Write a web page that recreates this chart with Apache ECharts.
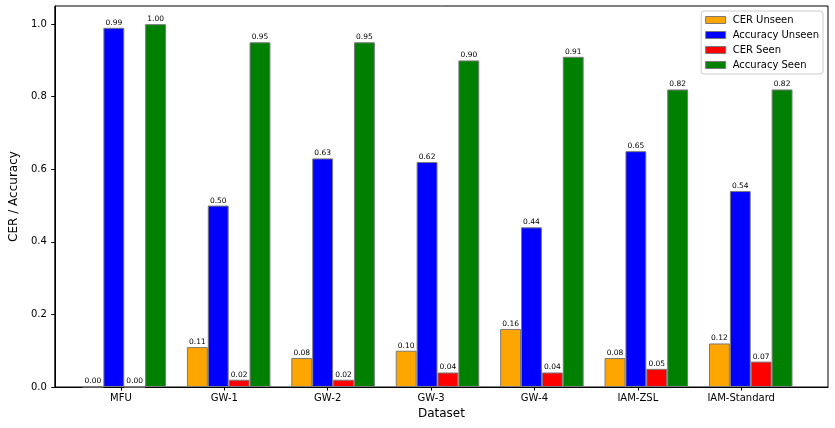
<!DOCTYPE html>
<html>
<head>
<meta charset="utf-8">
<script src="https://cdn.jsdelivr.net/npm/echarts@6/dist/echarts.min.js"></script>
<style>
html,body{margin:0;padding:0;background:#fff;}
#c{width:835px;height:428px;}
</style>
</head>
<body>
<div id="c"></div>
<script>
const categories = ['MFU', 'GW-1', 'GW-2', 'GW-3', 'GW-4', 'IAM-ZSL', 'IAM-Standard'];
const cerUnseen = [0.00, 0.11, 0.08, 0.10, 0.16, 0.08, 0.12];
const accUnseen = [0.99, 0.50, 0.63, 0.62, 0.44, 0.65, 0.54];
const cerSeen = [0.00, 0.02, 0.02, 0.04, 0.04, 0.05, 0.07];
const accSeen = [1.00, 0.95, 0.95, 0.90, 0.91, 0.82, 0.82];
const yTicks = [0, 0.2, 0.4, 0.6, 0.8, 1.0];

const FONT = 'DejaVu Sans';
const W = 835;
// frame grid geometry (matplotlib-like axes box)
const gL = 47, gR = 7, gT = 6, gB = 41;
const xMin = -0.64, xMax = 6.84;
const unit = (W - gL - gR) / (xMax - xMin);
const barW = 0.2 * unit;
// bar grid: each category band is centered on tick + 0.1 (group of 4 bars, tick at 2nd bar)
const bandStart = gL + (-0.4 - xMin) * unit;
const bandLeft = bandStart;
const bandRight = W - (bandStart + categories.length * unit);

const chart = echarts.init(document.getElementById('c'), null, {renderer: 'canvas'});

function mk(name, vals, color) {
  return {
    name: name,
    type: 'bar',
    xAxisIndex: 1, yAxisIndex: 1,
    barWidth: barW,
    barGap: '0%',
    data: vals,
    itemStyle: {color: color, borderColor: '#7a7a7a', borderWidth: 1},
    label: {
      show: true, position: 'top', distance: 1,
      fontFamily: FONT, fontSize: 7.5, color: '#000',
      formatter: p => Number(p.value).toFixed(2)
    },
    emphasis: {disabled: true},
    animation: false
  };
}

chart.setOption({
  animation: false,
  textStyle: {fontFamily: FONT},
  grid: [
    {left: gL, right: gR, top: gT, bottom: gB, show: true, borderColor: '#000', borderWidth: 1, z: 0},
    {left: bandLeft, right: bandRight, top: gT, bottom: gB, show: false}
  ],
  legend: {
    orient: 'vertical', right: 12, top: 11,
    data: ['CER Unseen', 'Accuracy Unseen', 'CER Seen', 'Accuracy Seen'],
    icon: 'rect',
    itemWidth: 20, itemHeight: 7, itemGap: 5,
    padding: [4, 4, 4, 4],
    borderColor: '#cccccc', borderWidth: 1, borderRadius: 3,
    backgroundColor: 'rgba(255,255,255,0.8)',
    itemStyle: {borderColor: '#7a7a7a', borderWidth: 1},
    textStyle: {fontFamily: FONT, fontSize: 10, color: '#000', lineHeight: 10, padding: [0, 0, 0, 2]},
    selectedMode: false
  },
  xAxis: [{
    gridIndex: 0,
    type: 'value', min: xMin, max: xMax,
    name: 'Dataset', nameLocation: 'middle', nameGap: 21,
    nameTextStyle: {fontFamily: FONT, fontSize: 12, color: '#000'},
    axisLine: {show: true, onZero: false, lineStyle: {color: '#000', width: 1}},
    axisTick: {show: true, length: 3.5, customValues: categories.map((c, i) => i), lineStyle: {color: '#000'}},
    axisLabel: {customValues: categories.map((c, i) => i), formatter: v => categories[Math.round(v)], fontFamily: FONT, fontSize: 10, color: '#000', margin: 6},
    splitLine: {show: false}
  }, {
    gridIndex: 1,
    type: 'category', data: categories,
    show: false
  }],
  yAxis: [{
    gridIndex: 0,
    type: 'value', min: 0, max: 1.05,
    name: 'CER / Accuracy', nameLocation: 'middle', nameGap: 30,
    nameTextStyle: {fontFamily: FONT, fontSize: 12, color: '#000'},
    axisLine: {show: true, onZero: false, lineStyle: {color: '#000', width: 1}},
    axisTick: {show: true, length: 3.5, customValues: yTicks, lineStyle: {color: '#000'}},
    axisLabel: {customValues: yTicks, formatter: v => v.toFixed(1), fontFamily: FONT, fontSize: 10, color: '#000', margin: 8},
    splitLine: {show: false}
  }, {
    gridIndex: 1,
    type: 'value', min: 0, max: 1.05,
    show: false
  }],
  series: [
    mk('CER Unseen', cerUnseen, '#FFA500'),
    mk('Accuracy Unseen', accUnseen, '#0000FF'),
    mk('CER Seen', cerSeen, '#FF0000'),
    mk('Accuracy Seen', accSeen, '#008000')
  ]
});
</script>
</body>
</html>
